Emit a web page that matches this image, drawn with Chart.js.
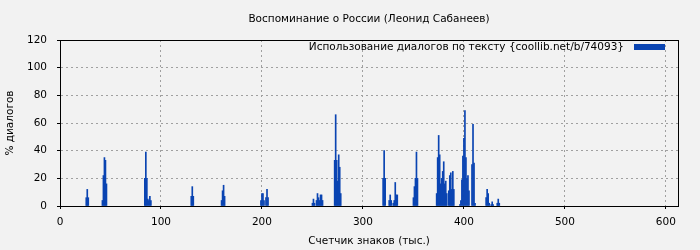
<!DOCTYPE html>
<html>
<head>
<meta charset="utf-8">
<script src="https://cdn.jsdelivr.net/npm/chart.js@4.4.0/dist/chart.umd.min.js"></script>
<style>
  html, body { margin: 0; padding: 0; background: #f2f2f2; }
  #wrap { width: 700px; height: 250px; }
</style>
</head>
<body>
<div id="wrap"><canvas id="dialogChart" width="700" height="250"></canvas></div>
<script>
// Position in the text (thousands of characters) and share of dialogue, %
const charPositions = [
    26, 27, 28,
    42, 43, 44, 45, 46,
    84, 85, 86, 87, 88, 89, 90,
    130, 131, 132,
    160, 161, 162, 163,
    199, 200, 201, 202, 204, 205, 206,
    250, 251, 252, 254, 255, 256, 257, 258, 259, 260,
    272, 273, 274, 275, 276, 277, 278,
    320, 321, 322,
    326, 327, 328, 330, 331, 332, 333, 334,
    350, 351, 352, 353, 354,
    373, 374, 375, 376, 377, 378, 379, 380, 381, 382, 383, 385, 386, 387, 388, 389, 390,
    396, 397, 398, 399, 400, 401, 402, 403, 404, 405, 408, 409, 410, 411,
    422, 423, 424, 425, 427, 428, 429,
    433, 434, 435
];
const dialogPercent = [
    6, 12, 6,
    4, 22, 35, 33, 16,
    20, 39, 20, 5, 4, 7, 4,
    7, 14, 7,
    4, 11, 15, 7,
    4, 9, 9, 4, 6, 12, 6,
    2, 5, 2, 4, 9, 6, 4, 8, 8, 4,
    33, 66, 33, 18, 37, 28, 9,
    20, 40, 20,
    4, 8, 4, 2, 4, 17, 8, 8,
    6, 14, 20, 39, 20,
    9, 35, 51, 37, 16, 20, 25, 32, 16, 18, 9, 11, 22, 24, 12, 25, 12,
    1, 4, 19, 36, 49, 69, 35, 20, 22, 11, 30, 59, 31, 2,
    6, 12, 9, 2, 1, 3, 1,
    2, 5, 2
];
const xTicks = [0, 100, 200, 300, 400, 500, 600];
const yTicks = [0, 20, 40, 60, 80, 100, 120];

const chartTitle = 'Воспоминание о России (Леонид Сабанеев)';
const seriesLabel = 'Использование диалогов по тексту {coollib.net/b/74093}';
const barColor = 'rgb(10, 68, 178)';
const font = 'DejaVu Sans';
const fontSize = 10.5;

const points = charPositions.map((x, i) => ({ x: x, y: dialogPercent[i] }));

// background, frame, title and gnuplot-like legend
const decor = {
    id: 'decor',
    beforeDraw(chart) {
        const ctx = chart.ctx;
        ctx.save();
        ctx.fillStyle = '#f2f2f2';
        ctx.fillRect(0, 0, chart.width, chart.height);
        ctx.restore();
    },
    afterDraw(chart) {
        const ctx = chart.ctx;
        const a = chart.chartArea;
        ctx.save();
        ctx.strokeStyle = '#000';
        ctx.lineWidth = 1;
        ctx.strokeRect(Math.round(a.left) + 0.5, Math.round(a.top) + 0.5,
            Math.round(a.right - a.left), Math.round(a.bottom - a.top));

        ctx.fillStyle = '#000';
        ctx.font = fontSize + 'px "' + font + '"';
        ctx.textAlign = 'center';
        ctx.textBaseline = 'middle';
        ctx.fillText(chartTitle, (a.left + a.right) / 2, 19);

        ctx.textAlign = 'right';
        ctx.fillText(seriesLabel, a.right - 54, a.top + 7);
        ctx.fillStyle = barColor;
        ctx.fillRect(a.right - 44, a.top + 4, 31, 6);
        ctx.restore();
    }
};

const axisFont = { family: font, size: fontSize };

new Chart(document.getElementById('dialogChart').getContext('2d'), {
    type: 'bar',
    data: {
        datasets: [{
            label: seriesLabel,
            data: points,
            backgroundColor: barColor,
            borderWidth: 0,
            barPercentage: 1,
            categoryPercentage: 1,
            grouped: false
        }]
    },
    options: {
        responsive: false,
        animation: false,
        layout: {
            padding: { top: 40, right: 22, left: 0, bottom: 0 }
        },
        plugins: {
            legend: { display: false },
            title: { display: false },
            tooltip: { enabled: false }
        },
        scales: {
            x: {
                type: 'linear',
                min: 0,
                max: 612,
                offset: false,
                afterFit(scale) { scale.height = 44; },
                afterBuildTicks(scale) { scale.ticks = xTicks.map(v => ({ value: v })); },
                ticks: {
                    color: '#000',
                    font: axisFont,
                    padding: 7,
                    maxRotation: 0
                },
                grid: {
                    offset: false,
                    color: '#a0a0a0',
                    lineWidth: 1,
                    tickLength: 3,
                    tickColor: '#000',
                    tickBorderDash: []
                },
                border: { display: true, color: '#000', dash: [2, 3] },
                title: {
                    display: true,
                    text: 'Счетчик знаков (тыс.)',
                    color: '#000',
                    font: axisFont,
                    padding: { top: 2, bottom: 2 }
                }
            },
            y: {
                min: 0,
                max: 120,
                afterFit(scale) { scale.width = 60; },
                afterBuildTicks(scale) { scale.ticks = yTicks.map(v => ({ value: v })); },
                ticks: {
                    color: '#000',
                    font: axisFont,
                    padding: 10
                },
                grid: {
                    color: '#a0a0a0',
                    lineWidth: 1,
                    tickLength: 3,
                    tickColor: '#000',
                    tickBorderDash: []
                },
                border: { display: true, color: '#000', dash: [2, 3] },
                title: {
                    display: true,
                    text: '% диалогов',
                    color: '#000',
                    font: axisFont,
                    padding: { top: 4, bottom: 2 }
                }
            }
        }
    },
    plugins: [decor]
});
</script>
</body>
</html>
